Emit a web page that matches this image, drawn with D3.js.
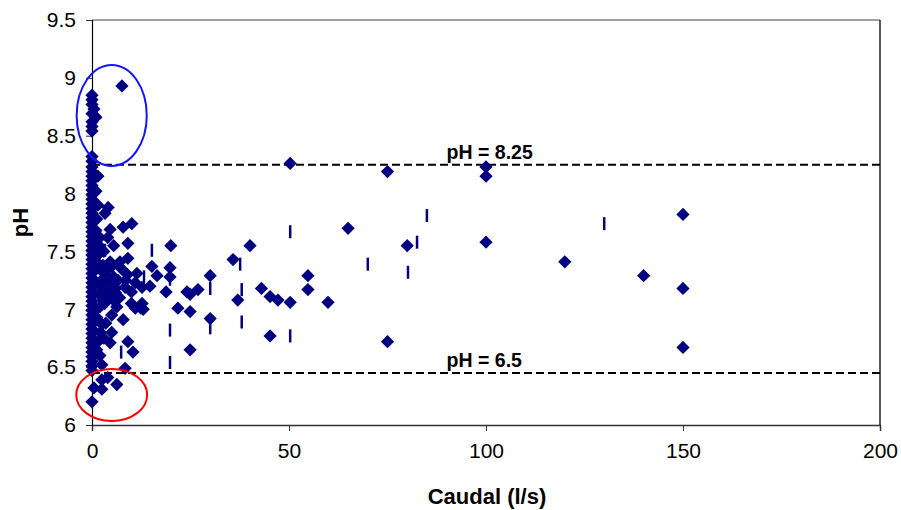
<!DOCTYPE html>
<html>
<head>
<meta charset="utf-8">
<script src="https://cdn.jsdelivr.net/npm/d3@7"></script>
<style>
  html, body { margin: 0; padding: 0; background: #fff; }
  svg { display: block; }
  text { font-family: "Liberation Sans", Arial, sans-serif; }
</style>
</head>
<body>
<svg id="chart" width="901" height="510"></svg>
<script>
// ---- Data ----
const xTicks = [0, 50, 100, 150, 200];
const yTicks = [6, 6.5, 7, 7.5, 8, 8.5, 9, 9.5];
const yTickLabels = ["6", "6.5", "7", "7.5", "8", "8.5", "9", "9.5"];
const xTitle = "Caudal (l/s)";
const yTitle = "pH";

// Series 1: diamonds (Caudal l/s, pH)
const diamondFlow = [
  0,0,0,0.5,0,1,0,0,0,
  7.6,
  0,0,0,0,0,0,0,0,0,0,0,0,0,0,0,0,0,0,0,0,0,0,0,0,0,0,0,0,0,0,0,0,0,0,0,0,0,0,0,0,0,0,0,0,0,0,0,
  0.5,0,2.5,6.3,4,2.5,
  1.5,1.2,2,1.5,2.5,1.5,2.2,1,2.5,1.5,2,1,2,3,2.8,2.5,1,1.5,1.8,3,2.8,1.2,2.2,1.2,1.5,2.5,
  4.1,3.3,4.6,7.9,10.1,9.1,9.1,4.6,7.1,11.4,6.6,3.8,5,8.4,6,11,4.5,7,10,6.3,11,12.4,7.9,9.1,10.4,8.4,4.6,3,5,3.5,5,3,5.5,4,3.2,5.5,7.5,9,10,8.5,
  4,6,3.5,5.5,4.5,
  15.2,19.8,16.5,19.8,14.7,12.7,18.8,12.7,13,21.8,24.9,24.1,24.9,26.9,30,30,24.9,35.8,40.1,37,43,45.2,47.2,50.3,54.8,54.8,59.9,45.2,50.3,20,
  75,65,80,75,100,100,100,150,120,140,150,150
];
const diamondPH = [
  8.85,8.81,8.77,8.73,8.69,8.66,8.62,8.58,8.54,
  8.93,
  8.32,8.28,8.23,8.19,8.15,8.11,8.07,8.03,7.99,7.95,7.91,7.87,7.83,7.79,7.75,7.71,7.67,7.63,7.59,7.55,7.51,7.47,7.43,7.39,7.35,7.31,7.27,7.23,7.19,7.15,7.11,7.07,7.03,6.99,6.95,6.91,6.87,6.83,6.79,6.75,6.71,6.67,6.63,6.59,6.55,6.51,6.47,
  6.32,6.20,6.31,6.35,6.41,6.39,
  7.9,7.78,7.62,7.47,7.33,7.22,7.12,7.0,6.87,6.72,6.6,8.02,7.02,7.2,7.38,6.52,7.68,8.15,7.55,7.27,7.08,6.93,6.8,6.65,7.4,7.16,
  7.88,7.83,7.69,7.71,7.74,7.57,7.44,7.41,7.41,7.31,7.25,7.34,7.37,7.19,7.18,7.23,7.13,7.1,7.15,7.02,7.01,7.01,6.91,6.72,6.63,6.49,6.71,6.75,6.95,6.88,6.8,7.5,7.55,7.62,7.05,7.28,7.35,7.3,7.05,7.25,
  7.22,7.14,7.1,7.08,7.26,
  7.37,7.36,7.29,7.28,7.2,7.19,7.15,7.05,7.0,7.01,6.98,7.15,7.13,7.17,7.29,6.92,6.65,7.43,7.55,7.08,7.18,7.11,7.08,7.06,7.29,7.17,7.06,6.77,8.26,7.55,
  8.19,7.70,7.55,6.72,8.23,8.15,7.58,7.82,7.41,7.29,7.18,6.67
];

// Series 2: dash markers (Caudal l/s, pH)
const dashFlow = [15.2,13.2,19.8,19.8,19.8,30,30,37.6,38,38,50.3,50.3,85,82.5,70,80.2,130,3.3,5.3,7.4,2.8];
const dashPH   = [7.51,7.28,7.26,6.82,6.54,7.18,6.84,7.39,7.17,6.89,7.67,6.77,7.81,7.58,7.39,7.32,7.74,7.51,7.08,6.63,7.51];

// Reference limits
const limitValues = [8.25, 6.45];
const limitLabels = ["pH = 8.25", "pH = 6.5"];
const limitLabelFlow = [90, 90];

// Highlight ellipses (center flow, center pH, radius flow, radius pH)
const ellipseCx = [5, 5];
const ellipseCy = [8.675, 6.26];
const ellipseRx = [8.9, 9.0];
const ellipseRy = [0.436, 0.225];
const ellipseColors = ["#1414ff", "#ff0000"];

// ---- Layout ----
const plot = { left: 92, right: 880, top: 20, bottom: 425 };
const navy = "#000080";

const svg = d3.select("#chart");
const x = d3.scaleLinear().domain([0, 200]).range([plot.left, plot.right]);
const y = d3.scaleLinear().domain([6, 9.5]).range([plot.bottom, plot.top]);

// Frame (top & right)
svg.append("line").attr("x1", plot.left).attr("x2", plot.right).attr("y1", plot.top).attr("y2", plot.top)
  .attr("stroke", "#808080").attr("stroke-width", 1.5);
svg.append("line").attr("x1", plot.right).attr("x2", plot.right).attr("y1", plot.top).attr("y2", plot.bottom)
  .attr("stroke", "#222").attr("stroke-width", 1.5);

// Limit lines
svg.selectAll("line.limit").data(limitValues).enter().append("line")
  .attr("class", "limit")
  .attr("x1", plot.left).attr("x2", plot.right)
  .attr("y1", d => y(d)).attr("y2", d => y(d))
  .attr("stroke", "#000").attr("stroke-width", 2).attr("stroke-dasharray", "8,4");

// Axes
const xAxis = d3.axisBottom(x).tickValues(xTicks).tickSize(6).tickPadding(12).tickFormat(d3.format("d"));
const gx = svg.append("g").attr("transform", `translate(0,${plot.bottom})`).call(xAxis);
gx.select(".domain").attr("stroke", "#333").attr("stroke-width", 1.5);
gx.selectAll(".tick line").attr("stroke", "#333");
gx.selectAll("text").attr("font-size", 21).attr("fill", "#000");

const yAxis = d3.axisLeft(y).tickValues(yTicks).tickSize(6).tickPadding(10)
  .tickFormat((d, i) => yTickLabels[i]);
const gy = svg.append("g").attr("transform", `translate(${plot.left},0)`).call(yAxis);
gy.select(".domain").attr("stroke", "#000").attr("stroke-width", 1.2);
gy.selectAll(".tick line").attr("stroke", "#333");
gy.selectAll("text").attr("font-size", 21).attr("fill", "#000");

// Titles
svg.append("text").attr("x", 487).attr("y", 504)
  .attr("text-anchor", "middle").attr("font-size", 22).attr("font-weight", "bold").text(xTitle);
svg.append("text").attr("transform", `translate(28,${(plot.top + plot.bottom) / 2}) rotate(-90)`)
  .attr("text-anchor", "middle").attr("font-size", 22).attr("font-weight", "bold").text(yTitle);

// Dash series
const dashData = dashFlow.map((f, i) => ({ f, p: dashPH[i] }));
svg.append("g").selectAll("line").data(dashData).enter().append("line")
  .attr("x1", d => x(d.f)).attr("x2", d => x(d.f))
  .attr("y1", d => y(d.p) - 6.5).attr("y2", d => y(d.p) + 6.5)
  .attr("stroke", navy).attr("stroke-width", 2.5);

// Diamond series
const diamondData = diamondFlow.map((f, i) => ({ f, p: diamondPH[i] }));
const sym = d3.symbol().type(d3.symbolSquare).size(88);
svg.append("g").selectAll("path").data(diamondData).enter().append("path")
  .attr("d", sym)
  .attr("transform", d => `translate(${x(d.f)},${y(d.p)}) rotate(45)`)
  .attr("fill", navy);

// Limit labels
svg.selectAll("text.limitLabel").data(limitValues).enter().append("text")
  .attr("class", "limitLabel")
  .attr("x", (d, i) => x(limitLabelFlow[i]))
  .attr("y", d => y(d) - 6)
  .attr("font-size", 19.5).attr("font-weight", "bold")
  .text((d, i) => limitLabels[i]);

// Ellipses
const ellData = ellipseCx.map((c, i) => ({ cx: c, cy: ellipseCy[i], rx: ellipseRx[i], ry: ellipseRy[i], col: ellipseColors[i] }));
svg.append("g").selectAll("ellipse").data(ellData).enter().append("ellipse")
  .attr("cx", d => x(d.cx)).attr("cy", d => y(d.cy))
  .attr("rx", d => x(d.rx) - x(0)).attr("ry", d => y(6) - y(6 + d.ry))
  .attr("fill", "none").attr("stroke", d => d.col).attr("stroke-width", 2);
</script>
</body>
</html>
